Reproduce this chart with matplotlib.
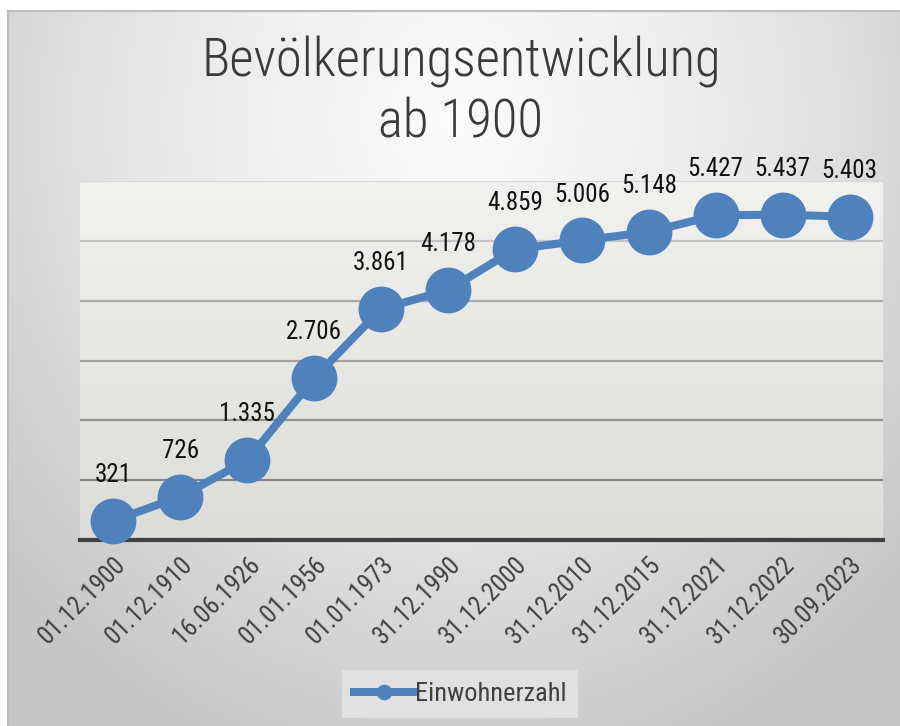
import numpy as np
import matplotlib
matplotlib.use("Agg")
import matplotlib.pyplot as plt
from matplotlib.colors import LinearSegmentedColormap

dates = ["01.12.1900", "01.12.1910", "16.06.1926", "01.01.1956", "01.01.1973",
         "31.12.1990", "31.12.2000", "31.12.2010", "31.12.2015", "31.12.2021",
         "31.12.2022", "30.09.2023"]
einwohner = [321, 726, 1335, 2706, 3861, 4178, 4859, 5006, 5148, 5427, 5437, 5403]
labels = ["321", "726", "1.335", "2.706", "3.861", "4.178", "4.859", "5.006",
          "5.148", "5.427", "5.437", "5.403"]
series_name = "Einwohnerzahl"
title = "Bevölkerungsentwicklung\nab 1900"

FONT = ["Roboto Condensed", "Archivo Narrow", "DejaVu Sans"]
plt.rcParams["font.family"] = FONT

W, H = 900, 726
fig = plt.figure(figsize=(W / 100, H / 100), dpi=100)
fig.patch.set_facecolor("white")

# background radial gradient (chart area)
bg = fig.add_axes([8 / W, 0, 1 - 8 / W, 1 - 11 / H], zorder=-10)
yy, xx = np.mgrid[0:200, 0:250]
cx, cy = 125, 30
d = np.sqrt(((xx - cx) / 170.0) ** 2 + ((yy - cy) / 190.0) ** 2)
d = np.clip(d, 0, 1)
bgcmap = LinearSegmentedColormap.from_list("bg", ["#fcfcfc", "#e8e8e8", "#c6c6c6"])
bg.imshow(d, cmap=bgcmap, aspect="auto", extent=[0, 1, 0, 1], origin="upper",
          interpolation="bilinear")
bg.set_xlim(0, 1); bg.set_ylim(0, 1)
bg.set_xticks([]); bg.set_yticks([])
for s in ["right", "bottom"]:
    bg.spines[s].set_visible(False)
for s in ["top", "left"]:
    bg.spines[s].set_color("#bdbdbd")
    bg.spines[s].set_linewidth(1.5)

x0, x1 = 80, 883
y0, y1 = 181, 540
ax = fig.add_axes([x0 / W, 1 - y1 / H, (x1 - x0) / W, (y1 - y0) / H])
ax.set_facecolor("none")
grad = np.linspace(0, 1, 100).reshape(-1, 1)
pcmap = LinearSegmentedColormap.from_list("pa", ["#f1f2ef", "#dcdcd8"])
ax.imshow(grad, cmap=pcmap, aspect="auto", extent=[0, 1, 0, 1],
          transform=ax.transAxes, origin="upper", zorder=0)

x = np.arange(len(dates))
ax.set_xlim(-0.5, len(dates) - 0.5)
ax.set_ylim(0, 6000)

grid_cols = ["#858585", "#929292", "#a0a0a0", "#aaaaaa", "#c4c4c4", "#d6d6d6"]
for val, c in zip(range(1000, 7000, 1000), grid_cols):
    ax.axhline(val, color=c, lw=1.6, zorder=1)

ax.plot(x, einwohner, color="#4f81bd", lw=5.8, marker="o", markersize=32,
        markerfacecolor="#4f81bd", markeredgecolor="#4f81bd", zorder=3,
        label=series_name, clip_on=False)

for xi, v, lab in zip(x, einwohner, labels):
    ax.annotate(lab, (xi, v), xytext=(0, 28), textcoords="offset points",
                ha="center", va="baseline", fontsize=18, color="#111111", zorder=4)

for s in ["top", "right", "left"]:
    ax.spines[s].set_visible(False)
ax.spines["bottom"].set_color("#404040")
ax.spines["bottom"].set_linewidth(3)
ax.spines["bottom"].set_zorder(2)
ax.set_yticks([])
ax.set_xticks(x)
ax.set_xticklabels(dates, rotation=45, ha="right", va="top",
                   rotation_mode="anchor", fontsize=18, color="#404040")
ax.tick_params(axis="x", length=0, pad=9)

fig.text(461 / W, 1 - 92 / H, title, ha="center", va="center", fontsize=38,
         color="#3a3a3a", linespacing=1.22, fontweight="light")

leg = fig.legend(loc="center", bbox_to_anchor=(460 / W, 1 - 694 / H),
                 fontsize=19, frameon=True, facecolor="#e0e0e0", edgecolor="none",
                 fancybox=False, markerscale=0.32, handlelength=2.3,
                 handletextpad=0.0, borderpad=0.45)
for t in leg.get_texts():
    t.set_color("#404040")
leg.get_frame().set_alpha(1)

fig.savefig("out.png", dpi=100)
